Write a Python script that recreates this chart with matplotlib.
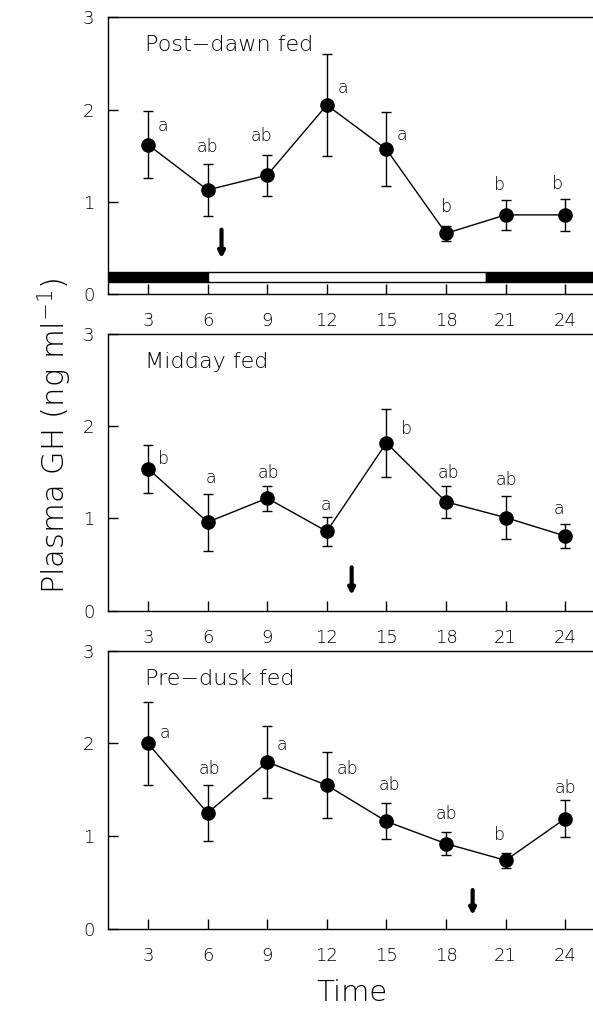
import matplotlib
matplotlib.use("Agg")
import matplotlib.pyplot as plt

plt.rcParams['font.family'] = ['DejaVu Sans']
plt.rcParams['font.weight'] = 'light'
plt.rcParams['mathtext.fontset'] = 'custom'
plt.rcParams['mathtext.rm'] = 'DejaVu Sans:light'
plt.rcParams['mathtext.default'] = 'rm'

times = [3, 6, 9, 12, 15, 18, 21, 24]
panel_titles = ["Post\u2212dawn fed", "Midday fed", "Pre\u2212dusk fed"]

gh_means = [
    [1.62, 1.13, 1.29, 2.05, 1.57, 0.66, 0.86, 0.86],
    [1.54, 0.96, 1.22, 0.86, 1.82, 1.18, 1.01, 0.81],
    [2.00, 1.25, 1.80, 1.55, 1.16, 0.92, 0.74, 1.19],
]
gh_sem = [
    [0.36, 0.28, 0.22, 0.55, 0.40, 0.08, 0.16, 0.17],
    [0.26, 0.31, 0.135, 0.16, 0.365, 0.17, 0.235, 0.125],
    [0.445, 0.30, 0.39, 0.355, 0.195, 0.127, 0.08, 0.20],
]
sig_letters = [
    ["a", "ab", "ab", "a", "a", "b", "b", "b"],
    ["b", "a", "ab", "a", "b", "ab", "ab", "a"],
    ["a", "ab", "a", "ab", "ab", "ab", "b", "ab"],
]
# letter placement (data coords)
letter_x = [
    [3.76, 6.0, 8.7, 12.8, 15.77, 18.04, 20.7, 23.6],
    [3.79, 6.16, 9.05, 11.94, 16.0, 18.13, 21.03, 23.7],
    [3.84, 6.1, 9.72, 13.03, 15.13, 18.0, 20.7, 24.0],
]
letter_y = [
    [1.82, 1.60, 1.71, 2.23, 1.73, 0.95, 1.18, 1.19],
    [1.65, 1.435, 1.49, 1.15, 1.966, 1.49, 1.417, 1.10],
    [2.11, 1.72, 1.98, 1.72, 1.55, 1.24, 1.013, 1.516],
]
feed_time = [6.7, 13.25, 19.34]
arrow_top = [0.70, 0.47, 0.42]
arrow_bottom = [0.39, 0.17, 0.15]
lights_on, lights_off = 6, 20

fig = plt.figure(figsize=(5.93, 10.09), dpi=100)
W, H = 593, 1009
left_px = 108.3
panels_px = [(17.3, 294.3), (334.0, 610.7), (650.7, 929.0)]
xlim = (1.0, 25.4)

for i, (top, bot) in enumerate(panels_px):
    ax = fig.add_axes([left_px / W, 1 - bot / H, 1 - left_px / W, (bot - top) / H])
    ax.set_xlim(*xlim)
    ax.set_ylim(0, 3)
    ax.spines['right'].set_visible(False)
    for s in ['left', 'bottom', 'top']:
        ax.spines[s].set_linewidth(1.0)
    ax.set_xticks(times)
    ax.set_yticks([0, 1, 2, 3])
    ax.tick_params(axis='x', direction='in', length=7, width=1, pad=13,
                   labelsize=13, top=False)
    ax.tick_params(axis='y', direction='in', length=7, width=1, pad=10,
                   labelsize=13, right=False)

    ax.errorbar(times, gh_means[i], yerr=gh_sem[i], color='black', lw=1.0,
                marker='o', markersize=9.5, elinewidth=1.0, capsize=3.5,
                capthick=1.0, zorder=3)
    for xx, yy, t in zip(letter_x[i], letter_y[i], sig_letters[i]):
        ax.text(xx, yy, t, fontsize=12.5, ha='center', va='center')

    ax.text(0.075, 0.9, panel_titles[i], transform=ax.transAxes, fontsize=16,
            ha='left', va='center')

    ax.annotate('', xy=(feed_time[i], arrow_bottom[i]),
                xytext=(feed_time[i], arrow_top[i]),
                arrowprops=dict(arrowstyle='-|>,head_width=0.18,head_length=0.35',
                                lw=3, color='black', shrinkA=0, shrinkB=0))

    if i == 0:
        ybar, hbar = 0.137, 0.108
        ax.broken_barh([(xlim[0], lights_on - xlim[0])], (ybar, hbar),
                       facecolor='black', edgecolor='black', lw=1)
        ax.broken_barh([(lights_on, lights_off - lights_on)], (ybar, hbar),
                       facecolor='white', edgecolor='black', lw=1)
        ax.broken_barh([(lights_off, xlim[1] - lights_off)], (ybar, hbar),
                       facecolor='black', edgecolor='black', lw=1)

fig.text(55 / W, 1 - 436 / H, "Plasma GH (ng ml$^{-1}$)", rotation=90,
         fontsize=22, ha='center', va='center')
fig.text(352 / W, 1 - 993 / H, "Time", fontsize=21, ha='center', va='center')

fig.savefig("out.png", dpi=100)
